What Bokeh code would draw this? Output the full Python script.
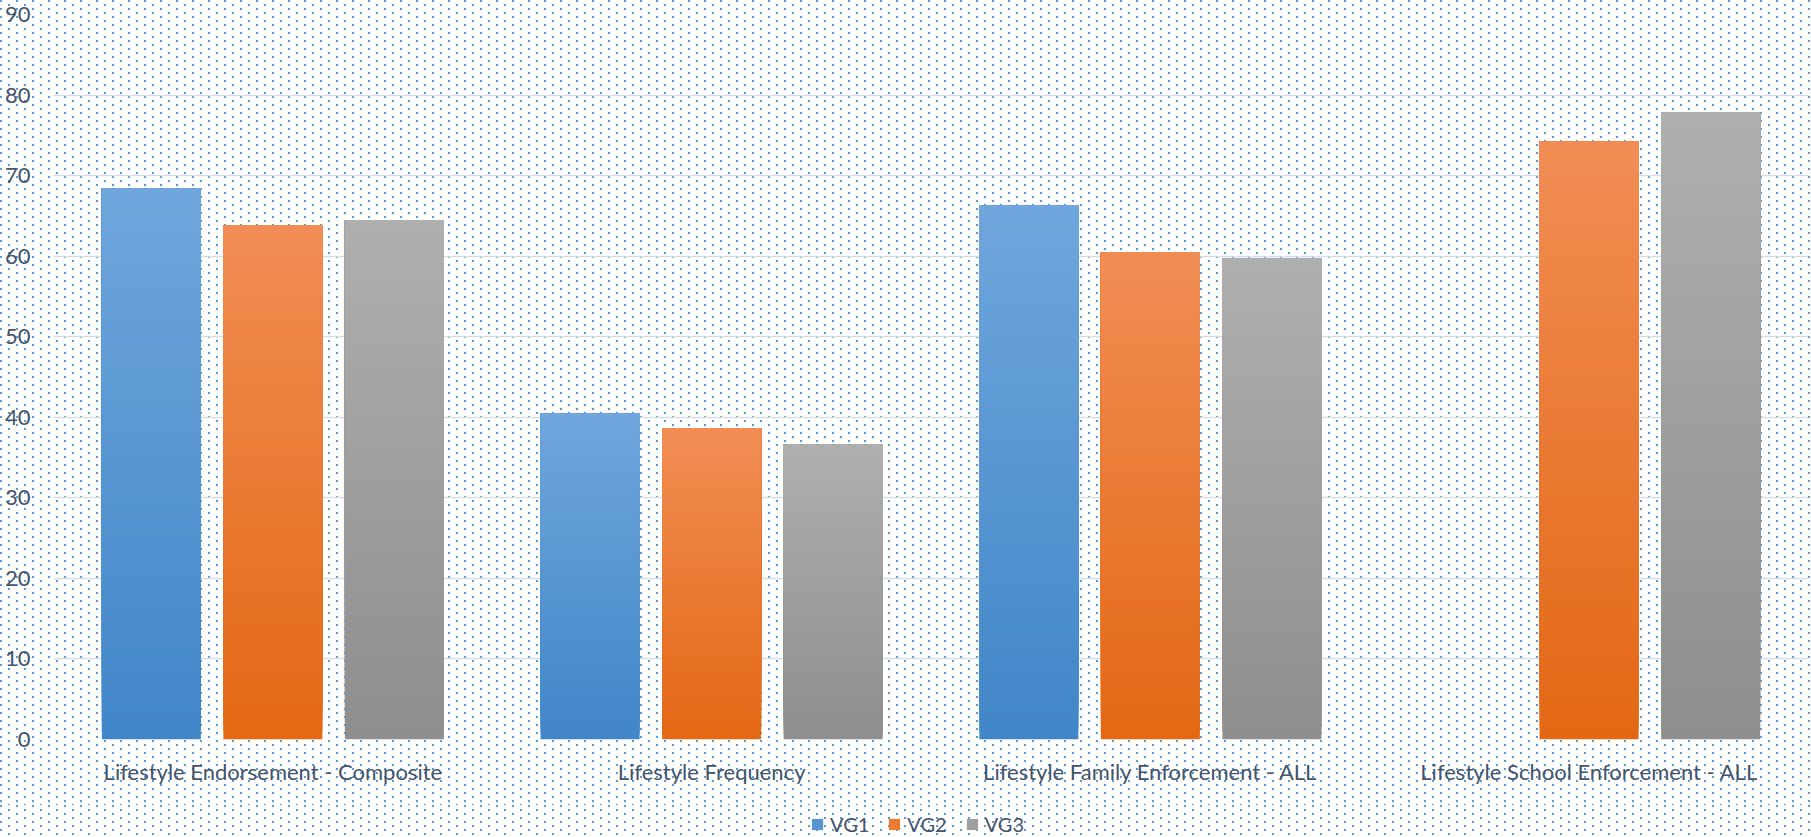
from bokeh.plotting import figure
from bokeh.layouts import column
from bokeh.models import ColumnDataSource, FactorRange, Range1d, Legend, LegendItem, FixedTicker
from bokeh.transform import dodge
from bokeh.embed import file_html
from bokeh.resources import INLINE

categories = ["Lifestyle Endorsement - Composite", "Lifestyle Frequency",
              "Lifestyle Family Enforcement - ALL", "Lifestyle School Enforcement - ALL"]
series_names = ["VG1", "VG2", "VG3"]
vg1 = [68.4, 40.5, 66.3, None]
vg2 = [63.8, 38.6, 60.5, 74.2]
vg3 = [64.5, 36.6, 59.7, 77.8]
y_ticks = [0, 10, 20, 30, 40, 50, 60, 70, 80, 90]

series_values = [vg1, vg2, vg3]
top_colors = [(111, 166, 220), (241, 141, 84), (175, 175, 175)]
bottom_colors = [(65, 134, 200), (227, 104, 20), (142, 142, 142)]
offsets = [-0.277, 0.0, 0.277]
BAR_W = 0.2256
N = 60

TEXT = "#44546A"
FONT = "Lato"

dot_svg = ("<svg xmlns='http://www.w3.org/2000/svg' width='16' height='8'>"
           "<rect x='0' y='0' width='2' height='2' fill='%235B9BD5'/>"
           "<rect x='8' y='4' width='2' height='2' fill='%235B9BD5'/></svg>")
BG_STYLE = {"background-image": 'url("data:image/svg+xml;utf8,' + dot_svg + '")',
            "background-repeat": "repeat"}

x_range = FactorRange(*categories, range_padding=0)
p = figure(x_range=x_range, y_range=Range1d(0, 90),
           width=1811, height=805, output_backend="svg", toolbar_location=None,
           min_border_left=53, min_border_right=3, min_border_top=14, min_border_bottom=66)
p.styles = BG_STYLE
p.background_fill_color = None
p.border_fill_color = None
p.outline_line_color = None

# legend strip below the chart; its hidden renderers share the bar data (for legend colours only)
lf = figure(width=1811, height=32, x_range=x_range, y_range=Range1d(1000, 1001),
            output_backend="svg", toolbar_location=None, x_axis_location=None,
            y_axis_location=None, min_border=0)
lf.styles = BG_STYLE
lf.background_fill_color = None
lf.border_fill_color = None
lf.outline_line_color = None
lf.grid.visible = False


def mix(c1, c2, t):
    return "#%02x%02x%02x" % tuple(int(round(a + (b - a) * t)) for a, b in zip(c1, c2))


legend_items = []
for name, vals, tc, bc, off in zip(series_names, series_values, top_colors, bottom_colors, offsets):
    cats, bots, tops, cols = [], [], [], []
    for c, v in zip(categories, vals):
        if v is None:
            continue
        for i in range(N):
            cats.append(c)
            bots.append(v * i / N)
            tops.append(v)
            cols.append(mix(bc, tc, i / (N - 1)))
    src = ColumnDataSource(dict(cat=cats, bottom=bots, top=tops, color=cols))
    p.vbar(x=dodge("cat", off, range=x_range), width=BAR_W, bottom="bottom", top="top",
           fill_color="color", line_color=None, source=src)
    r = lf.vbar(x=dodge("cat", off, range=x_range), width=BAR_W, bottom="bottom", top="top",
                fill_color="color", line_color=None, source=src, visible=False)
    legend_items.append(LegendItem(label=name, renderers=[r], index=N // 2))

p.yaxis.ticker = FixedTicker(ticks=y_ticks)
p.ygrid.ticker = FixedTicker(ticks=y_ticks)
p.ygrid.grid_line_color = "#D8DDE4"
p.ygrid.grid_line_width = 1.5
p.xgrid.grid_line_color = None

for ax in (p.xaxis, p.yaxis):
    ax.axis_line_color = None
    ax.major_tick_line_color = None
    ax.minor_tick_line_color = None
    ax.major_tick_out = 0
    ax.major_tick_in = 0
    ax.major_label_text_font = FONT
    ax.major_label_text_font_size = "22px"
    ax.major_label_text_color = TEXT
p.yaxis.major_label_standoff = 23
p.xaxis.major_label_standoff = 18

legend = Legend(items=legend_items, orientation="horizontal", location=(757, 1),
                background_fill_alpha=0, border_line_color=None, padding=0, margin=0,
                spacing=18, label_standoff=6, glyph_width=14, glyph_height=14, label_height=22,
                label_text_font=FONT, label_text_font_size="20px", label_text_color=TEXT)
lf.add_layout(legend, "center")

layout = column(p, lf, spacing=0)
open("out.html", "w").write(file_html(layout, INLINE))
